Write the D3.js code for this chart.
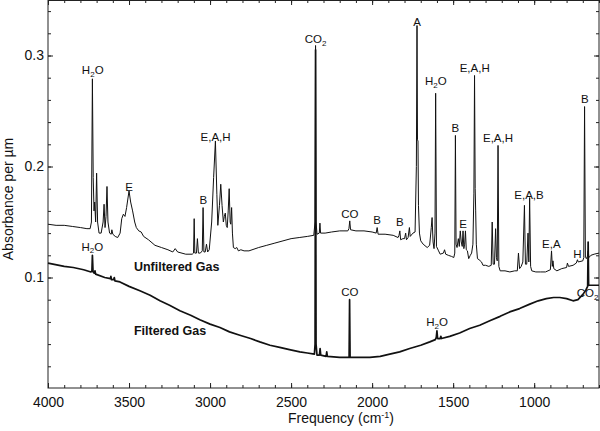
<!DOCTYPE html>
<html>
<head>
<meta charset="utf-8">
<script src="https://cdn.jsdelivr.net/npm/d3@7"></script>
<style>
  body { margin: 0; background: #fff; }
  text { font-family: "Liberation Sans", Arial, sans-serif; fill: #111; }
</style>
</head>
<body>
<script>
// spectrum points: [frequency cm-1, absorbance per um]
var unfiltered = [
  [4000,0.148],[3950,0.147],[3900,0.147],[3850,0.146],[3800,0.145],[3760,0.144],[3740,0.144],
  [3732,0.150],[3726,0.279],[3721,0.190],[3716,0.160],[3712,0.168],[3706,0.150],[3700,0.194],
  [3694,0.150],[3685,0.140],[3672,0.140],[3660,0.150],[3654,0.166],[3648,0.145],[3642,0.155],
  [3636,0.182],[3630,0.150],[3620,0.140],[3610,0.139],[3606,0.143],[3600,0.139],[3585,0.137],
  [3570,0.136],[3555,0.140],[3545,0.153],[3535,0.157],[3525,0.155],[3515,0.163],[3500,0.178],
  [3490,0.168],[3478,0.160],[3465,0.150],[3455,0.145],[3440,0.142],[3425,0.141],[3410,0.137],
  [3380,0.134],[3340,0.129],[3300,0.127],[3260,0.125],[3230,0.123],[3215,0.126],[3200,0.123],
  [3150,0.121],[3110,0.121],[3102,0.122],[3098,0.153],[3094,0.122],[3084,0.122],[3078,0.135],
  [3072,0.122],[3060,0.122],[3048,0.124],[3043,0.163],[3038,0.123],[3030,0.123],[3022,0.130],
  [3015,0.123],[3005,0.125],[2990,0.150],[2978,0.190],[2967,0.223],[2958,0.175],[2952,0.147],
  [2942,0.165],[2934,0.184],[2926,0.165],[2918,0.150],[2912,0.155],[2906,0.158],[2900,0.147],
  [2894,0.145],[2888,0.160],[2882,0.180],[2876,0.150],[2872,0.148],[2867,0.163],[2862,0.140],
  [2856,0.127],[2845,0.126],[2835,0.127],[2825,0.124],[2810,0.125],[2790,0.124],[2760,0.124],
  [2700,0.127],[2650,0.129],[2600,0.131],[2550,0.133],[2500,0.135],[2450,0.136],[2400,0.137],
  [2360,0.138],[2352,0.150],[2349,0.309],[2346,0.150],[2340,0.139],[2326,0.140],[2322,0.149],
  [2318,0.140],[2290,0.140],[2250,0.141],[2200,0.142],[2150,0.142],[2143,0.144],[2138,0.151],
  [2133,0.143],[2100,0.142],[2050,0.142],[2000,0.141],[1975,0.140],[1969,0.145],[1963,0.139],
  [1920,0.139],[1870,0.138],[1840,0.136],[1834,0.138],[1829,0.142],[1824,0.134],[1810,0.135],
  [1800,0.135],[1793,0.140],[1788,0.134],[1778,0.136],[1770,0.145],[1765,0.137],[1748,0.140],
  [1735,0.141],[1727,0.200],[1723,0.327],[1720,0.224],[1717,0.223],[1714,0.165],[1708,0.140],
  [1700,0.133],[1685,0.130],[1660,0.127],[1645,0.129],[1635,0.145],[1630,0.154],[1624,0.132],
  [1618,0.126],[1612,0.140],[1608,0.266],[1603,0.128],[1590,0.124],[1580,0.121],[1560,0.122],
  [1553,0.125],[1546,0.121],[1530,0.120],[1510,0.119],[1496,0.118],[1490,0.122],[1486,0.228],
  [1482,0.130],[1476,0.127],[1468,0.135],[1462,0.128],[1456,0.142],[1450,0.132],[1444,0.128],
  [1439,0.142],[1434,0.126],[1429,0.130],[1424,0.142],[1419,0.125],[1412,0.124],[1404,0.117],
  [1394,0.120],[1386,0.122],[1378,0.130],[1372,0.176],[1368,0.282],[1364,0.180],[1361,0.160],
  [1357,0.130],[1350,0.117],[1340,0.116],[1325,0.114],[1316,0.111],[1300,0.111],[1280,0.110],
  [1265,0.111],[1259,0.150],[1253,0.112],[1245,0.112],[1238,0.144],[1233,0.118],[1228,0.115],
  [1223,0.219],[1218,0.110],[1210,0.106],[1180,0.106],[1150,0.105],[1120,0.106],[1104,0.106],
  [1097,0.122],[1090,0.108],[1080,0.110],[1070,0.114],[1060,0.165],[1054,0.112],[1046,0.112],
  [1038,0.140],[1033,0.114],[1028,0.172],[1022,0.110],[1015,0.106],[990,0.105],[960,0.105],
  [930,0.105],[900,0.107],[893,0.124],[888,0.110],[884,0.115],[879,0.108],[860,0.106],
  [830,0.108],[800,0.109],[795,0.113],[788,0.110],[760,0.111],[740,0.113],[733,0.116],
  [728,0.114],[700,0.115],[694,0.118],[689,0.254],[684,0.118],[678,0.117],[672,0.119],
  [667,0.124],[662,0.118],[650,0.120],[630,0.121],[600,0.122]
];

var filtered = [
  [4000,0.113],[3900,0.110],[3844,0.109],[3780,0.107],[3735,0.105],[3729,0.106],[3726,0.120],
  [3722,0.105],[3715,0.104],[3710,0.106],[3706,0.103],[3650,0.100],[3615,0.099],[3612,0.101],
  [3608,0.098],[3595,0.098],[3591,0.100],[3587,0.097],[3556,0.096],[3500,0.092],[3433,0.088],
  [3370,0.084],[3309,0.079],[3250,0.075],[3186,0.070],[3120,0.066],[3063,0.062],[3000,0.058],
  [2939,0.055],[2880,0.051],[2816,0.048],[2750,0.045],[2693,0.042],[2630,0.039],[2570,0.037],
  [2510,0.035],[2446,0.033],[2400,0.032],[2356,0.031],[2352,0.040],[2349,0.305],[2346,0.040],
  [2340,0.030],[2325,0.030],[2321,0.036],[2317,0.030],[2284,0.029],[2280,0.033],[2276,0.029],
  [2200,0.028],[2142,0.028],[2139,0.080],[2136,0.028],[2080,0.028],[2014,0.028],[1950,0.029],
  [1891,0.031],[1830,0.033],[1768,0.036],[1700,0.039],[1644,0.042],[1610,0.044],[1604,0.046],
  [1600,0.052],[1596,0.045],[1580,0.045],[1576,0.047],[1572,0.045],[1521,0.047],[1460,0.050],
  [1398,0.054],[1336,0.057],[1274,0.061],[1210,0.065],[1151,0.069],[1090,0.072],[1027,0.076],
  [975,0.079],[925,0.081],[880,0.082],[842,0.082],[800,0.081],[760,0.079],[730,0.080],
  [698,0.085],[680,0.089],[670,0.092],[667,0.132],[664,0.093],[640,0.093],[600,0.093]
];

// peak labels: text, frequency, absorbance at label baseline
var peakLabels = [
  ["H2O",3724,0.283],["E",3499,0.178],["B",3042,0.166],["E,A,H",2966,0.223],
  ["CO2",2349,0.311],["CO",2138,0.154],["B",1969,0.148],["B",1829,0.146],
  ["A",1722,0.327],["H2O",1607,0.273],["B",1486,0.231],["E",1439,0.145],
  ["E,A,H",1367,0.285],["E,A,H",1223,0.222],["E,A,B",1032,0.171],["E,A",894,0.127],
  ["H",733,0.118],["B",688,0.257],
  ["H2O",3727,0.124],["CO",2138,0.083],["H2O",1599,0.056],["CO2",670,0.082]
];

var seriesNames = [["Unfiltered Gas",3470,0.106],["Filtered Gas",3470,0.048]];

var xMajor = [4000,3500,3000,2500,2000,1500,1000];
var yMajor = [0.1,0.2,0.3];

var w = 600, h = 431;
var mLeft = 48, mRight = 599, mTop = 0, mBottom = 388;

var svg = d3.select("body").append("svg")
    .attr("width", w)
    .attr("height", h);

var x = d3.scaleLinear().domain([4000, 600]).range([mLeft, mRight]);
var y = d3.scaleLinear().domain([0, 0.35]).range([mBottom + 0.5, mTop]);

var xMinor = d3.range(4000, 599, -100);
var yMinor = d3.range(0.02, 0.35, 0.02).map(function(d) { return +d.toFixed(2); });

// ticks on all four sides, pointing inward
function ticks(axisFn, scale, vals, size, pos, fmt) {
    var a = axisFn(scale).tickValues(vals).tickSize(-size).tickSizeOuter(0)
        .tickFormat(fmt ? d3.format(fmt) : "");
    var g = svg.append("g").attr("transform", pos).call(a);
    g.select(".domain").remove();
    g.selectAll("line").attr("stroke", "#222");
    return g;
}
ticks(d3.axisBottom, x, xMinor, 3, "translate(0," + mBottom + ")");
ticks(d3.axisTop, x, xMinor, 3, "translate(0," + mTop + ")");
ticks(d3.axisLeft, y, yMinor, 3, "translate(" + mLeft + ",0)");
ticks(d3.axisRight, y, yMinor, 3, "translate(" + mRight + ",0)");
ticks(d3.axisTop, x, xMajor, 5, "translate(0," + mTop + ")");
ticks(d3.axisRight, y, yMajor, 5, "translate(" + mRight + ",0)");

var xb = ticks(d3.axisBottom, x, xMajor, 5, "translate(0," + mBottom + ")", "d");
xb.selectAll("text").attr("font-size", 14).attr("y", 9).attr("fill", "#111")
    .attr("font-family", "Liberation Sans, Arial, sans-serif");
var yl = ticks(d3.axisLeft, y, yMajor, 5, "translate(" + mLeft + ",0)", ".1f");
yl.selectAll("text").attr("font-size", 14).attr("x", -4).attr("fill", "#111")
    .attr("font-family", "Liberation Sans, Arial, sans-serif");

// frame
svg.append("rect")
    .attr("x", mLeft).attr("y", mTop + 0.5)
    .attr("width", mRight - mLeft).attr("height", mBottom - mTop - 0.5)
    .attr("fill", "none").attr("stroke", "#222").attr("stroke-width", 1);

var line = d3.line()
    .x(function(d) { return x(d[0]); })
    .y(function(d) { return y(d[1]); });

svg.append("path").datum(filtered)
    .attr("d", line).attr("fill", "none")
    .attr("stroke", "#111").attr("stroke-width", 1.7).attr("stroke-linejoin", "round");

svg.append("path").datum(unfiltered)
    .attr("d", line).attr("fill", "none")
    .attr("stroke", "#111").attr("stroke-width", 1).attr("stroke-linejoin", "round");

// peak labels with subscripts
var lab = svg.selectAll(".peak").data(peakLabels).enter()
    .append("text").attr("class", "peak")
    .attr("x", function(d) { return x(d[1]); })
    .attr("y", function(d) { return y(d[2]); })
    .attr("text-anchor", "middle")
    .attr("font-size", 11.5);
lab.each(function(d) {
    var t = d3.select(this);
    var m = d[0].match(/^([A-Z]+)(2)(.*)$/);
    if (m) {
        t.append("tspan").text(m[1]);
        t.append("tspan").text("2").attr("font-size", 8).attr("dy", 2.5);
        t.append("tspan").text(m[3]).attr("dy", -2.5);
    } else {
        t.text(d[0]);
    }
});

svg.selectAll(".series").data(seriesNames).enter()
    .append("text").attr("class", "series")
    .attr("x", function(d) { return x(d[1]); })
    .attr("y", function(d) { return y(d[2]); })
    .attr("font-size", 12.5).attr("font-weight", "bold")
    .text(function(d) { return d[0]; });

// axis titles
var xt = svg.append("text")
    .attr("x", 341).attr("y", 423)
    .attr("text-anchor", "middle").attr("font-size", 14);
xt.append("tspan").text("Frequency (cm");
xt.append("tspan").text("-1").attr("font-size", 9).attr("dy", -5);
xt.append("tspan").text(")").attr("dy", 5);

svg.append("text")
    .attr("transform", "translate(13,199) rotate(-90)")
    .attr("text-anchor", "middle").attr("font-size", 14)
    .text("Absorbance per \u00b5m");
</script>
</body>
</html>
